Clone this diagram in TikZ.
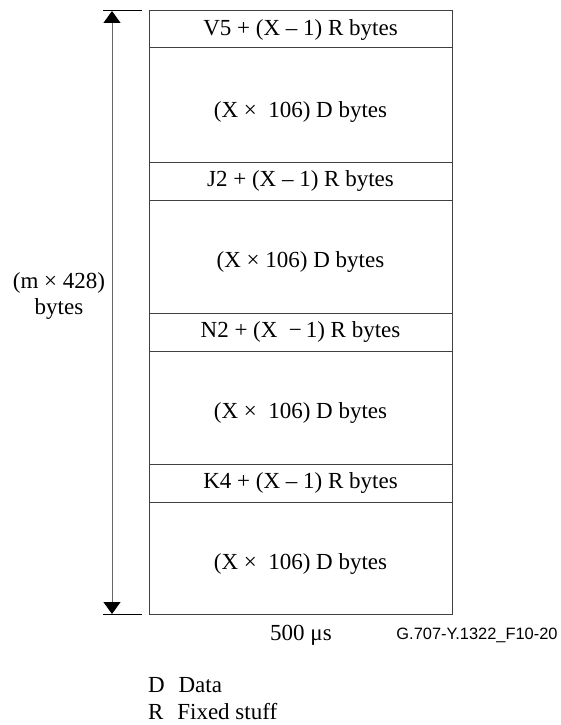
\documentclass[tikz,border=0pt]{standalone}
\usepackage{fontspec}
\setmainfont{Liberation Serif}
\newfontfamily\figsans{Liberation Sans}
\usetikzlibrary{arrows.meta}
\begin{document}
\begin{tikzpicture}[x=1pt,y=-1pt,
    font=\fontsize{23}{26}\selectfont,
    frame/.style={draw=black!75,line width=1pt},
    span/.style={{Triangle[length=12pt,width=17pt,color=black]}-{Triangle[length=12pt,width=17pt,color=black]},draw=black!60,line width=1pt}]
    \useasboundingbox (0,0) rectangle (560,725);
    % frame and its bands
    \draw[frame] (149,11) rectangle (452,614);
    \foreach \y in {48,162,200,313,351,464,502}
        \draw[frame] (149,\y) -- (452,\y);
    \node (rv5) at (300.5,30) {V5 + (X -- 1) R bytes};
    \node (dv5) at (300.5,112) {(X × \ 106) D bytes};
    \node (rj2) at (300.5,181) {J2 + (X -- 1) R bytes};
    \node (dj2) at (300.5,262) {(X × 106) D bytes};
    \node (rn2) at (300.5,332) {N2 + (X \ −\,1) R bytes};
    \node (dn2) at (300.5,413) {(X × \ 106) D bytes};
    \node (rk4) at (300.5,483) {K4 + (X -- 1) R bytes};
    \node (dk4) at (300.5,564) {(X × \ 106) D bytes};
    % height of the frame
    \coordinate (top) at (112,11);
    \coordinate (bot) at (112,614);
    \draw[line width=1pt] (103,11) -- (142,11);
    \draw[line width=1pt] (103,614) -- (142,614);
    \draw[span] (top) -- (bot);
    \node[align=center] (size) at (59,296) {(m × 428)\\bytes};
    % below the frame
    \node (time) at (301,635) {500 μs};
    \node (ref) at (477,635) {\figsans\fontsize{16.4}{19}\selectfont G.707-Y.1322\_F10-20};
    \node[anchor=west,inner sep=0pt] (keyd) at (148,685) {D\hskip0.6em Data};
    \node[anchor=west,inner sep=0pt] (keyr) at (148,712) {R\hskip0.6em Fixed stuff};
\end{tikzpicture}
\end{document}
